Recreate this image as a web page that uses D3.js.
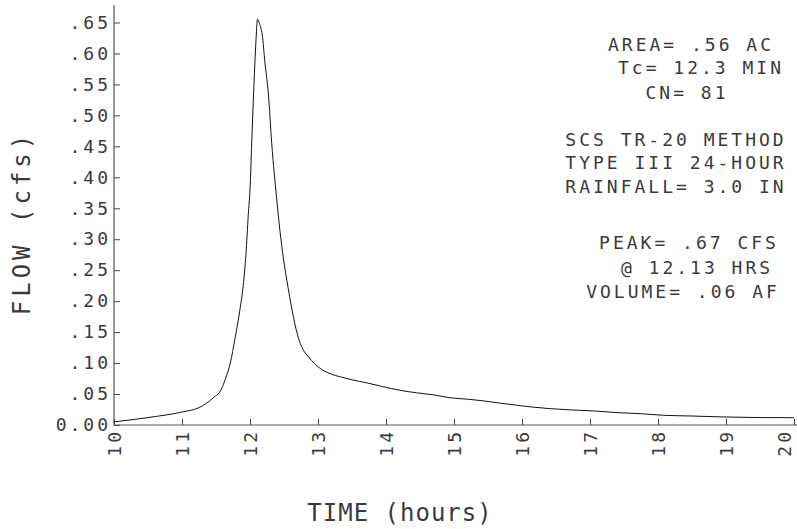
<!DOCTYPE html>
<html><head><meta charset="utf-8">
<script src="https://cdn.jsdelivr.net/npm/d3@7"></script>
<style>
html,body{margin:0;padding:0;background:#fff;}
svg{display:block;}
text{font-family:"DejaVu Sans Mono",monospace;fill:#3a3a3a;}
</style></head>
<body>
<script>
// ---- data ----
const timeHours = [10.0,10.5,11.0,11.25,11.46,11.58,11.64,11.71,11.78,11.85,11.90,11.94,11.975,12.0,12.03,12.07,12.09,12.11,12.14,12.18,12.22,12.27,12.32,12.39,12.44,12.49,12.56,12.62,12.70,12.78,12.86,12.95,13.05,13.2,13.32,13.5,13.72,13.95,14.21,14.45,14.70,14.94,15.21,15.43,15.70,15.92,16.15,16.41,16.70,17.05,17.40,17.74,18.08,18.50,18.96,19.5,20.0];
const flowCfs   = [0.005,0.012,0.021,0.028,0.044,0.058,0.075,0.100,0.140,0.185,0.225,0.275,0.340,0.380,0.470,0.580,0.625,0.655,0.648,0.630,0.585,0.535,0.454,0.368,0.314,0.270,0.222,0.185,0.145,0.122,0.110,0.099,0.090,0.082,0.078,0.073,0.068,0.062,0.056,0.052,0.0486,0.044,0.0416,0.039,0.035,0.032,0.029,0.0264,0.0245,0.0227,0.020,0.0183,0.0157,0.0145,0.013,0.012,0.0118];
const xTicks = [10,11,12,13,14,15,16,17,18,19,20];
const yTicks = [0,0.05,0.10,0.15,0.20,0.25,0.30,0.35,0.40,0.45,0.50,0.55,0.60,0.65];
const yTickLabels = ["0.00",".05",".10",".15",".20",".25",".30",".35",".40",".45",".50",".55",".60",".65"];
const infoLines = ["AREA= .56 AC","Tc= 12.3 MIN","CN= 81","SCS TR-20 METHOD","TYPE III 24-HOUR","RAINFALL= 3.0 IN","PEAK= .67 CFS","@ 12.13 HRS","VOLUME= .06 AF"];
const xTitle = "TIME (hours)";
const yTitle = "FLOW (cfs)";

// ---- layout ----
const W = 797, H = 529;
const svg = d3.select("body").append("svg").attr("width", W).attr("height", H);
const x = d3.scaleLinear().domain([10,20]).range([114,794]);
const y = d3.scaleLinear().domain([0,0.65]).range([425,22.5]);

// y axis
const yAxis = d3.axisLeft(y).tickValues(yTicks).tickSizeInner(-6).tickSizeOuter(0).tickPadding(6)
  .tickFormat((d,i)=>yTickLabels[i]);
const gy = svg.append("g").attr("transform","translate(114,0)").call(yAxis);
gy.select(".domain").remove();
gy.selectAll("line").attr("stroke","#444");
gy.selectAll("text").style("font-size","18px").style("letter-spacing","3px").attr("dx","3px");
svg.append("line").attr("x1",114).attr("x2",114).attr("y1",5).attr("y2",425).attr("stroke","#555").attr("stroke-width",1.2);

// x axis
const xAxis = d3.axisBottom(x).tickValues(xTicks).tickSizeInner(-6).tickSizeOuter(0).tickFormat(d3.format("d"));
const gx = svg.append("g").attr("transform","translate(0,425)").call(xAxis);
gx.select(".domain").remove();
gx.selectAll("line").attr("stroke","#444");
gx.selectAll("text")
  .attr("transform","rotate(-90)")
  .attr("x",-4).attr("y",0).attr("dy",(d)=> d===20 ? "-0.2em" : "0.35em")
  .attr("text-anchor","end")
  .style("font-size","18px").style("letter-spacing","3px");
svg.append("line").attr("x1",114).attr("x2",797).attr("y1",425).attr("y2",425).attr("stroke","#555").attr("stroke-width",1.2);

// curve
const line = d3.line().x((d,i)=>x(timeHours[i])).y(d=>y(d)).curve(d3.curveMonotoneX);
svg.append("path").datum(flowCfs).attr("d",line)
  .attr("fill","none").attr("stroke","#111").attr("stroke-width",1);

// axis titles
svg.append("text").attr("x",400).attr("y",521).attr("text-anchor","middle")
  .style("font-size","24px").style("letter-spacing","1px").text(xTitle);
svg.append("text").attr("transform","translate(22,223) rotate(-90)").attr("dy","0.35em")
  .attr("text-anchor","middle").style("font-size","24px").style("letter-spacing","4px").text(yTitle);

// info block
const infoY = [45,68,93,140,163,187,243,268,292];
const infoX = [691,701,687,676,676,676,689,697,683];
svg.append("g").selectAll("text").data(infoLines).join("text")
  .attr("x",(d,i)=>infoX[i]).attr("y",(d,i)=>infoY[i]).attr("dy","0.35em")
  .attr("text-anchor","middle")
  .style("font-size","18px").style("letter-spacing","3px")
  .text(d=>d);
</script>
</body></html>
